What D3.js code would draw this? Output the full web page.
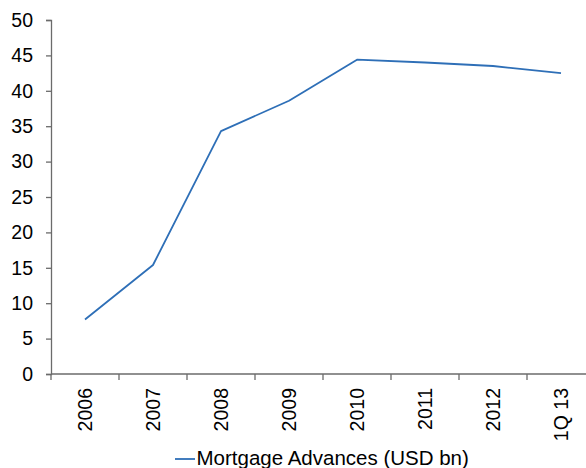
<!DOCTYPE html>
<html>
<head>
<meta charset="utf-8">
<script src="https://cdn.jsdelivr.net/npm/d3@7"></script>
<style>
  body { margin: 0; background: #fff; }
  svg { display: block; font-family: "Liberation Sans", Arial, sans-serif; }
</style>
</head>
<body>
<svg id="chart" width="586" height="468"></svg>
<script>
var categories = ["2006", "2007", "2008", "2009", "2010", "2011", "2012", "1Q 13"];
var advances = [7.7, 15.4, 34.3, 38.6, 44.4, 44.0, 43.5, 42.5];
var yTicks = [0, 5, 10, 15, 20, 25, 30, 35, 40, 45, 50];
var seriesName = "Mortgage Advances (USD bn)";

var margin = { top: 20, left: 51 };
var plotW = 544, plotH = 354;
var lineColor = "#2e6fb7";
var axisColor = "#6b6b6b";
var fontSize = "19.5px";

var svg = d3.select("svg#chart");

var x = d3.scaleBand().domain(categories).range([margin.left, margin.left + plotW]);
var y = d3.scaleLinear().domain([0, 50]).range([margin.top + plotH, margin.top]);

// y axis
var yAxis = svg.append("g")
    .attr("transform", `translate(${margin.left},0)`)
    .call(d3.axisLeft(y).tickValues(yTicks).tickSize(5).tickPadding(13));
yAxis.select(".domain").attr("stroke", axisColor).attr("stroke-width", 1.3);
yAxis.selectAll(".tick line").attr("stroke", axisColor).attr("stroke-width", 1.3);
yAxis.selectAll(".tick text")
    .attr("fill", "#000")
    .style("font-size", fontSize);

// x axis, ticks at band edges
var edges = categories.map(c => x(c)).concat([margin.left + plotW]);
var xg = svg.append("g");
xg.append("line")
    .attr("x1", margin.left).attr("x2", margin.left + plotW)
    .attr("y1", y(0)).attr("y2", y(0))
    .attr("stroke", axisColor).attr("stroke-width", 1.3);
xg.selectAll("line.tk")
    .data(edges)
    .enter().append("line")
    .attr("class", "tk")
    .attr("x1", d => d).attr("x2", d => d)
    .attr("y1", y(0)).attr("y2", y(0) + 6)
    .attr("stroke", axisColor).attr("stroke-width", 1.3);
xg.selectAll("text")
    .data(categories)
    .enter().append("text")
    .attr("transform", d => `translate(${x(d) + x.bandwidth() / 2 + 7},${y(0) + 14}) rotate(-90)`)
    .attr("text-anchor", "end")
    .style("font-size", fontSize)
    .text(d => d);

// line
var line = d3.line()
    .x((d, i) => x(categories[i]) + x.bandwidth() / 2)
    .y(d => y(d));
svg.append("path")
    .datum(advances)
    .attr("fill", "none")
    .attr("stroke", lineColor)
    .attr("stroke-width", 1.8)
    .attr("stroke-linejoin", "round")
    .attr("d", line);

// legend
var lg = svg.append("g").attr("transform", "translate(175,459)");
lg.append("line")
    .attr("x1", 0).attr("x2", 20)
    .attr("y1", 0).attr("y2", 0)
    .attr("stroke", lineColor).attr("stroke-width", 1.8);
lg.append("text")
    .attr("x", 21.5).attr("y", 6)
    .style("font-size", "20.5px")
    .text(seriesName);
</script>
</body>
</html>
